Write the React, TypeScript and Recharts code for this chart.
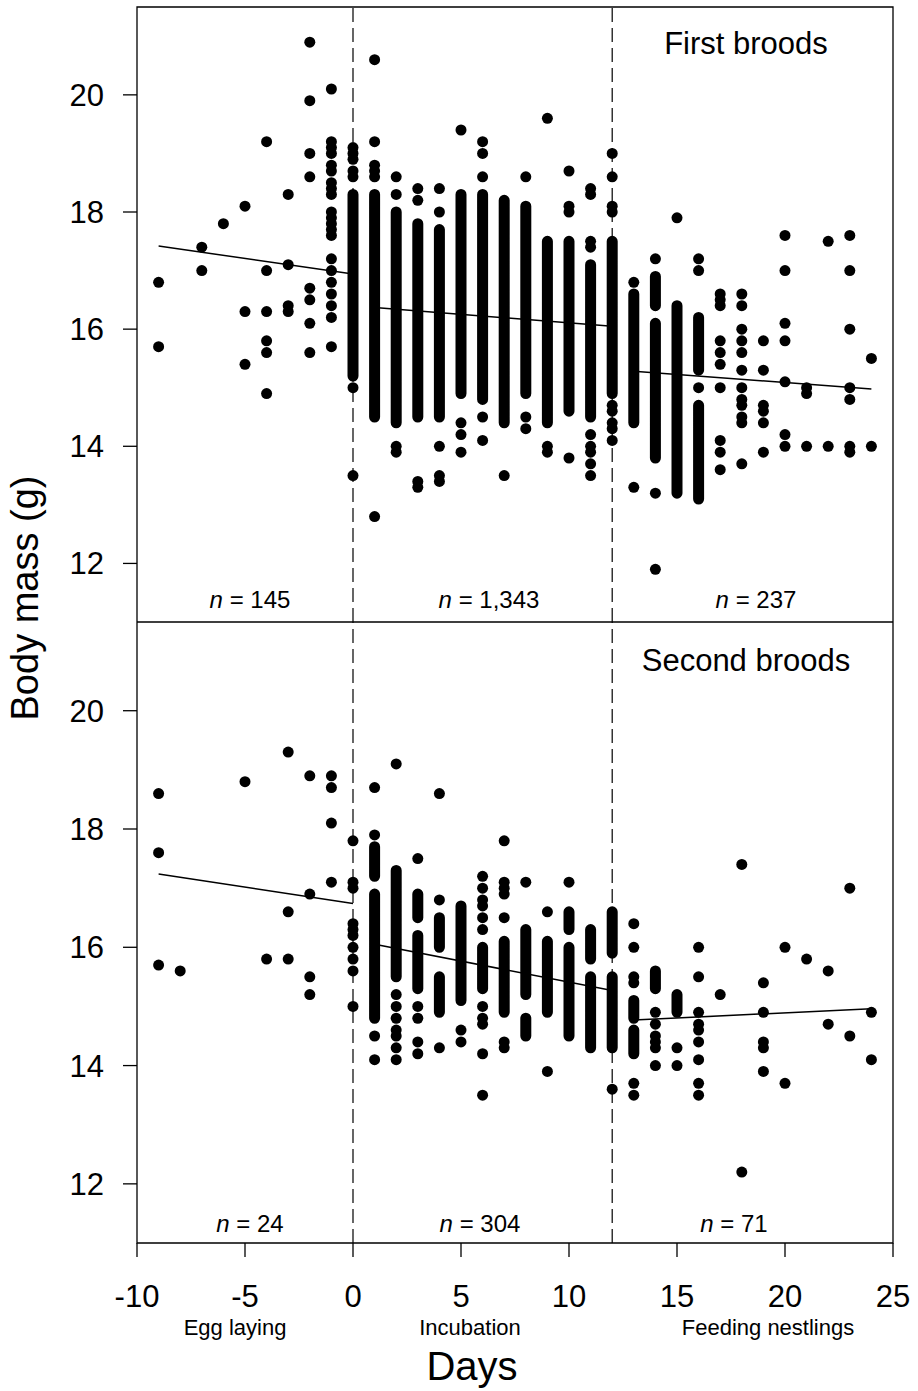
import React from "react";
import {
  ComposedChart,
  XAxis,
  YAxis,
  Scatter,
  Line,
  ReferenceLine,
  ReferenceArea,
} from "recharts";

const FONT = "'Liberation Sans', Arial, sans-serif";

const dayTicks = [-10, -5, 0, 5, 10, 15, 20, 25];
const massTicks = [12, 14, 16, 18, 20];
const phaseBreaks = [0, 12];
const phaseNames = ["Egg laying", "Incubation", "Feeding nestlings"];

// first broods: single points, [day, masses]
const firstDots: [number, number[]][] = [
  [-9, [16.8, 15.7]],
  [-7, [17.4, 17.0]],
  [-6, [17.8]],
  [-5, [18.1, 16.3, 15.4]],
  [-4, [19.2, 17.0, 16.3, 15.8, 15.6, 14.9]],
  [-3, [18.3, 17.1, 16.4, 16.3]],
  [-2, [20.9, 19.9, 19.0, 18.6, 16.7, 16.5, 16.1, 15.6]],
  [-1, [20.1, 19.2, 19.1, 19.0, 18.8, 18.7, 18.5, 18.4, 18.3, 18.0, 17.9, 17.8, 17.7, 17.6, 17.2, 17.0, 16.8, 16.6, 16.4, 16.2, 15.7]],
  [0, [19.1, 19.0, 18.9, 18.7, 18.6, 15.0, 13.5]],
  [1, [20.6, 19.2, 18.8, 18.7, 18.6, 12.8]],
  [2, [18.6, 18.3, 14.0, 13.9]],
  [3, [18.4, 18.2, 13.4, 13.3]],
  [4, [18.4, 18.0, 14.0, 13.5, 13.4]],
  [5, [19.4, 14.4, 14.2, 13.9]],
  [6, [19.2, 19.0, 18.6, 14.5, 14.1]],
  [7, [13.5]],
  [8, [18.6, 14.5, 14.3]],
  [9, [19.6, 14.0, 13.9]],
  [10, [18.7, 18.1, 18.0, 13.8]],
  [11, [18.4, 18.3, 17.5, 17.4, 14.2, 14.0, 13.9, 13.7, 13.5]],
  [12, [19.0, 18.6, 18.1, 18.0, 14.7, 14.6, 14.4, 14.3, 14.1]],
  [13, [16.8, 13.3]],
  [14, [17.2, 13.2, 11.9]],
  [15, [17.9]],
  [16, [17.2, 17.0, 15.0]],
  [17, [16.6, 16.5, 16.4, 15.8, 15.6, 15.4, 15.0, 14.1, 13.9, 13.6]],
  [18, [16.6, 16.4, 16.0, 15.8, 15.6, 15.3, 15.0, 14.8, 14.7, 14.5, 14.4, 13.7]],
  [19, [15.8, 15.3, 14.7, 14.6, 14.4, 13.9]],
  [20, [17.6, 17.0, 16.1, 15.8, 15.1, 14.2, 14.0]],
  [21, [15.0, 14.9, 14.0]],
  [22, [17.5, 14.0]],
  [23, [17.6, 17.0, 16.0, 15.0, 14.8, 14.0, 13.9]],
  [24, [15.5, 14.0]],
];

// first broods: runs of overlapping points, [day, highest, lowest]
const firstRuns: [number, number, number][] = [
  [0, 18.3, 15.2],
  [1, 18.3, 14.5],
  [2, 18.0, 14.4],
  [3, 17.8, 14.5],
  [4, 17.7, 14.5],
  [5, 18.3, 14.9],
  [6, 18.3, 14.8],
  [7, 18.2, 14.4],
  [8, 18.1, 14.9],
  [9, 17.5, 14.4],
  [10, 17.5, 14.6],
  [11, 17.1, 14.5],
  [12, 17.5, 14.9],
  [13, 16.6, 14.4],
  [14, 16.9, 16.4],
  [14, 16.1, 13.8],
  [15, 16.4, 13.2],
  [16, 16.2, 15.3],
  [16, 14.7, 13.1],
];

// regression segments, [day1, mass1, day2, mass2]
const firstFits: [number, number, number, number][] = [
  [-9, 17.42, 0, 16.94],
  [1, 16.37, 12, 16.05],
  [13, 15.28, 24, 14.98],
];
const firstCounts = ["145", "1,343", "237"];

const secondDots: [number, number[]][] = [
  [-9, [18.6, 17.6, 15.7]],
  [-8, [15.6]],
  [-5, [18.8]],
  [-4, [15.8]],
  [-3, [19.3, 16.6, 15.8]],
  [-2, [18.9, 16.9, 15.5, 15.2]],
  [-1, [18.9, 18.7, 18.1, 17.1]],
  [0, [17.8, 17.1, 17.0, 16.4, 16.3, 16.2, 16.0, 15.8, 15.6, 15.0]],
  [1, [18.7, 17.9, 14.5, 14.1]],
  [2, [19.1, 15.2, 15.0, 14.8, 14.6, 14.5, 14.3, 14.1]],
  [3, [17.5, 15.0, 14.8, 14.4, 14.2]],
  [4, [18.6, 16.8, 14.3]],
  [5, [14.6, 14.4]],
  [6, [17.2, 17.0, 16.8, 16.7, 16.5, 16.3, 15.0, 14.8, 14.7, 14.2, 13.5]],
  [7, [17.8, 17.1, 17.0, 16.9, 16.5, 14.4, 14.3]],
  [8, [17.1]],
  [9, [16.6, 13.9]],
  [10, [17.1]],
  [12, [13.6]],
  [13, [16.4, 16.0, 15.5, 15.4, 13.7, 13.5]],
  [14, [14.9, 14.7, 14.5, 14.4, 14.3, 14.0]],
  [15, [14.3, 14.0]],
  [16, [16.0, 15.5, 14.9, 14.7, 14.6, 14.4, 14.1, 13.7, 13.5]],
  [17, [15.2]],
  [18, [17.4, 12.2]],
  [19, [15.4, 14.9, 14.4, 14.3, 13.9]],
  [20, [16.0, 13.7]],
  [21, [15.8]],
  [22, [15.6, 14.7]],
  [23, [17.0, 14.5]],
  [24, [14.9, 14.1]],
];

const secondRuns: [number, number, number][] = [
  [1, 17.7, 17.2],
  [1, 16.9, 14.8],
  [2, 17.3, 15.5],
  [3, 16.9, 16.5],
  [3, 16.2, 15.3],
  [4, 16.5, 16.0],
  [4, 15.5, 14.9],
  [5, 16.7, 15.1],
  [6, 16.0, 15.3],
  [7, 16.1, 14.9],
  [8, 16.3, 15.2],
  [8, 14.8, 14.5],
  [9, 16.1, 14.9],
  [10, 16.6, 16.3],
  [10, 16.0, 14.5],
  [11, 16.3, 15.8],
  [11, 15.5, 14.3],
  [12, 16.6, 15.9],
  [12, 15.5, 14.3],
  [13, 15.1, 14.8],
  [13, 14.6, 14.2],
  [14, 15.6, 15.3],
  [15, 15.2, 14.9],
];

const secondFits: [number, number, number, number][] = [
  [-9, 17.24, 0, 16.74],
  [1, 16.05, 12, 15.27],
  [13, 14.77, 24, 14.96],
];
const secondCounts = ["24", "304", "71"];

const DOT_R = 5.5;

const toPoints = (dots: [number, number[]][]) =>
  dots.flatMap(([day, masses]) => masses.map((mass) => ({ day, mass })));

// each run becomes a vertical segment; a null entry breaks the line between runs
const toRunLine = (runs: [number, number, number][]) =>
  runs.flatMap(([day, hi, lo]) => [
    { day, mass: hi },
    { day, mass: lo },
    { day, mass: null },
  ]);

const dotShape = (p: any) => <circle cx={p.cx} cy={p.cy} r={DOT_R} fill="#000" />;

type PanelProps = {
  dots: [number, number[]][];
  runs: [number, number, number][];
  fits: [number, number, number, number][];
  height: number;
  top: number;
  showX: boolean;
};

const Panel = ({ dots, runs, fits, height, top, showX }: PanelProps) => (
  <div style={{ position: "absolute", left: 0, top }}>
    <ComposedChart
      width={918}
      height={height}
      margin={{ top: showX ? 0 : 7, right: 25, bottom: 0, left: 0 }}
    >
      <XAxis
        type="number"
        dataKey="day"
        domain={[-10, 25]}
        ticks={dayTicks}
        allowDataOverflow
        hide={!showX}
        height={showX ? 148 : 0}
        axisLine={false}
        tickLine={{ stroke: "#000", strokeWidth: 1.3 }}
        tickSize={14}
        tickMargin={28}
        tick={{ fontSize: 31, fill: "#000", fontFamily: FONT }}
      />
      <YAxis
        type="number"
        dataKey="mass"
        domain={[11, 21.5]}
        ticks={massTicks}
        allowDataOverflow
        width={137}
        axisLine={false}
        tickLine={{ stroke: "#000", strokeWidth: 1.3 }}
        tickSize={14}
        tickMargin={19}
        tick={{ fontSize: 31, fill: "#000", fontFamily: FONT }}
      />
      <ReferenceArea
        x1={-10}
        x2={25}
        y1={11}
        y2={21.5}
        fill="none"
        stroke="#000"
        strokeWidth={1.3}
        fillOpacity={0}
      />
      {phaseBreaks.map((x) => (
        <ReferenceLine key={x} x={x} stroke="#000" strokeWidth={1.2} strokeDasharray="14 6" />
      ))}
      <Line
        data={toRunLine(runs)}
        dataKey="mass"
        type="linear"
        stroke="#000"
        strokeWidth={DOT_R * 2}
        strokeLinecap="round"
        strokeLinejoin="round"
        dot={false}
        activeDot={false}
        connectNulls={false}
        isAnimationActive={false}
      />
      <Scatter data={toPoints(dots)} shape={dotShape} isAnimationActive={false} />
      {fits.map(([x1, y1, x2, y2], i) => (
        <Line
          key={i}
          data={[
            { day: x1, mass: y1 },
            { day: x2, mass: y2 },
          ]}
          dataKey="mass"
          type="linear"
          stroke="#000"
          strokeWidth={1.5}
          dot={false}
          activeDot={false}
          isAnimationActive={false}
        />
      ))}
    </ComposedChart>
  </div>
);

const CountLabel = ({ x, y, value }: { x: number; y: number; value: string }) => (
  <text x={x} y={y} textAnchor="middle" fontSize={24}>
    <tspan fontStyle="italic">n</tspan> = {value}
  </text>
);

const firstCountX = [250, 489, 756];
const secondCountX = [250, 480, 734];
const phaseX = [235, 470, 768];

export default function App() {
  return (
    <div
      style={{
        position: "absolute",
        left: 0,
        top: 0,
        width: 918,
        height: 1391,
        background: "#fff",
        fontFamily: FONT,
      }}
    >
      <Panel dots={firstDots} runs={firstRuns} fits={firstFits} height={622} top={0} showX={false} />
      <Panel dots={secondDots} runs={secondRuns} fits={secondFits} height={769} top={622} showX />
      <svg
        width={918}
        height={1391}
        style={{ position: "absolute", left: 0, top: 0, pointerEvents: "none" }}
        fontFamily={FONT}
        fill="#000"
      >
        <text x={746} y={54} textAnchor="middle" fontSize={31}>
          First broods
        </text>
        <text x={746} y={671} textAnchor="middle" fontSize={31}>
          Second broods
        </text>
        {firstCounts.map((c, i) => (
          <CountLabel key={"f" + i} x={firstCountX[i]} y={608} value={c} />
        ))}
        {secondCounts.map((c, i) => (
          <CountLabel key={"s" + i} x={secondCountX[i]} y={1232} value={c} />
        ))}
        {phaseNames.map((name, i) => (
          <text key={name} x={phaseX[i]} y={1335} textAnchor="middle" fontSize={22}>
            {name}
          </text>
        ))}
        <text x={472} y={1380} textAnchor="middle" fontSize={40}>
          Days
        </text>
        <text
          x={38}
          y={598}
          textAnchor="middle"
          fontSize={38}
          transform="rotate(-90 38 598)"
        >
          Body mass (g)
        </text>
      </svg>
    </div>
  );
}
